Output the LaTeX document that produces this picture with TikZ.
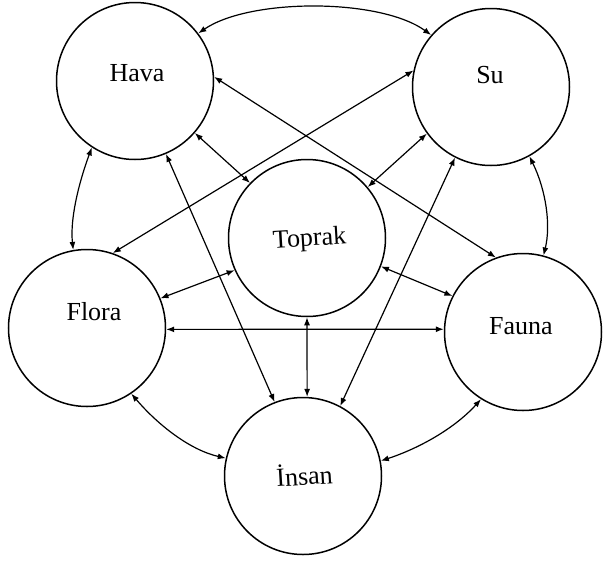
\documentclass[tikz,border=0pt]{standalone}
\usepackage{fontspec}
\setmainfont{Liberation Serif}
\usetikzlibrary{arrows.meta}
\begin{document}
\begin{tikzpicture}[x=1pt,y=-1pt,
  ring/.style={circle,draw,line width=1.5pt,minimum size=157pt,inner sep=0pt},
  lbl/.style={anchor=base,inner sep=0pt,font=\fontsize{26}{30}\selectfont},
  link/.style={line width=1.2pt,{Latex[length=8pt,width=6pt]}-{Latex[length=8pt,width=6pt]}}]
\useasboundingbox[fill=white] (0,0) rectangle (603,563);
% circles
\node[ring] (hava)   at (135,81)  {};
\node[ring] (su)     at (491,87)  {};
\node[ring] (toprak) at (307,238) {};
\node[ring] (flora)  at (87,328)  {};
\node[ring] (fauna)  at (523,332) {};
\node[ring] (insan)  at (303,476) {};
% labels
\node[lbl] (lhava)   at (137,81)  {Hava};
\node[lbl] (lsu)     at (490,83)  {Su};
\node[lbl,rotate=3.5] (ltoprak) at (310,246) {Toprak};
\node[lbl] (lflora)  at (94,320)  {Flora};
\node[lbl] (lfauna)  at (521,334) {Fauna};
\node[lbl,rotate=3.5] (linsan)  at (305,485) {İnsan};
% straight connectors
\draw[link] (hava.3)    -- (fauna.110);
\draw[link] (su.168)    -- (flora.71);
\draw[link] (hava.-41)  -- (toprak.136);
\draw[link] (su.-144)   -- (toprak.40);
\draw[link] (hava.-67)  -- (insan.111);
\draw[link] (su.-117)   -- (insan.62);
\draw[link] (toprak.-90) -- (insan.87);
\draw[link] (toprak.204) -- (flora.22);
\draw[link] (toprak.-21) -- (fauna.153);
\draw[link] (flora.-1)  -- (fauna.178);
% curved connectors
\draw[link] (hava.37) .. controls (250,-2) and (380,-2) .. (su.139);
\draw[link] (hava.-123) .. controls (78,185) and (70,220) .. (flora.100);
\draw[link] (su.-61) .. controls (546,190) and (551,225) .. (fauna.75);
\draw[link] (flora.-56) .. controls (158,425) and (190,450) .. (insan.167);
\draw[link] (fauna.238) .. controls (455,428) and (420,448) .. (insan.11);
\end{tikzpicture}
\end{document}
